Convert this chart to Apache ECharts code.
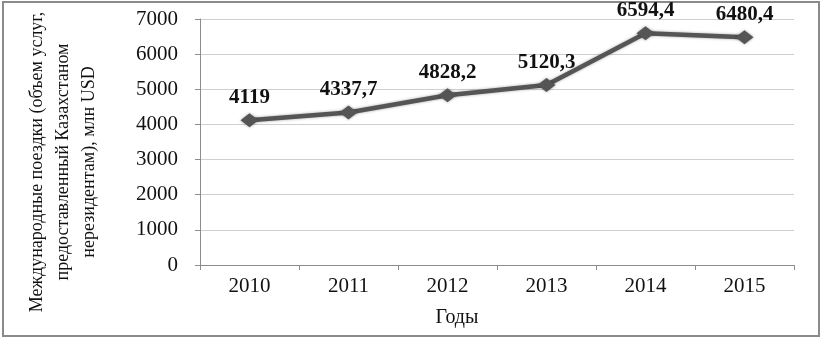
<!DOCTYPE html>
<html><head><meta charset="utf-8">
<script src="https://cdn.jsdelivr.net/npm/echarts@6/dist/echarts.min.js"></script>
<style>html,body{margin:0;padding:0;background:#fff}#c{width:822px;height:339px}</style>
</head><body><div id="c"></div>
<script>
var years = ['2010','2011','2012','2013','2014','2015'];
var values = [4119, 4337.7, 4828.2, 5120.3, 6594.4, 6480.4];
var yTicks = [0, 1000, 2000, 3000, 4000, 5000, 6000, 7000];
var yTitle = 'Международные поездки (объем услуг,\nпредоставленный Казахстаном\nнерезидентам), млн USD';
var xTitle = 'Годы';

var serif = '"Liberation Serif", "Times New Roman", serif';
var chart = echarts.init(document.getElementById('c'), null, {renderer:'canvas'});
chart.setOption({
  animation: false,
  backgroundColor: '#fff',
  grid: {left: 200, right: 28, top: 19, bottom: 74, containLabel: false},
  xAxis: {
    type: 'category', data: years, boundaryGap: true,
    axisLine: {lineStyle: {color: '#8c8c8c', width: 1}},
    axisTick: {show: true, length: 5, lineStyle: {color: '#8c8c8c'}},
    axisLabel: {fontFamily: serif, fontSize: 21, color: '#111', margin: 11}
  },
  yAxis: {
    type: 'value', min: yTicks[0], max: yTicks[yTicks.length-1], interval: 1000,
    axisLine: {show: true, lineStyle: {color: '#8c8c8c', width: 1}},
    axisTick: {show: true, length: 5, lineStyle: {color: '#8c8c8c'}},
    splitLine: {lineStyle: {color: '#cfcfcf', width: 1}},
    axisLabel: {fontFamily: serif, fontSize: 21, color: '#111', margin: 22,
      formatter: function(v){ return String(v); }}
  },
  graphic: [
    {type: 'rect', shape: {x: 3, y: 2, width: 816, height: 334}, style: {fill: 'none', stroke: '#8a8a8a', lineWidth: 2}, z: -1},
    {type: 'text', x: 63, y: 162, rotation: Math.PI/2,
      style: {text: yTitle, fontFamily: serif, fontSize: 18, lineHeight: 26, fill: '#111', align: 'center', verticalAlign: 'middle'}},
    {type: 'text', x: 457, y: 318,
      style: {text: xTitle, fontFamily: serif, fontSize: 20, fill: '#111', align: 'center', verticalAlign: 'middle'}}
  ],
  series: [{
    type: 'line', data: values,
    symbol: 'diamond', symbolSize: [18, 14],
    itemStyle: {color: '#555555', shadowColor: 'rgba(0,0,0,0.35)', shadowBlur: 3},
    lineStyle: {color: '#555555', width: 4.5, shadowColor: 'rgba(0,0,0,0.35)', shadowBlur: 3},
    label: {show: true, position: 'top', distance: 5,
      fontFamily: serif, fontSize: 21, fontWeight: 'bold', color: '#111',
      formatter: function(p){ return String(p.value).replace('.', ','); }}
  }]
});
</script></body></html>
